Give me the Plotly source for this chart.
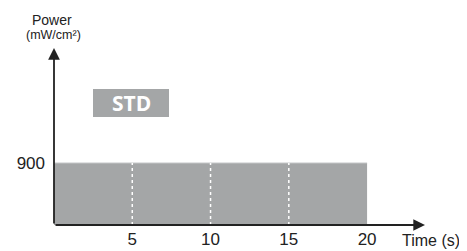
import plotly.graph_objects as go

# data
time_span = [0, 20]
power_level = [900, 900]
marker_times = [5, 10, 15]
x_ticks = [5, 10, 15, 20]
y_ticks = [900]
label = "STD"

# page has an 8px body margin; the figure is laid out in page pixels minus 8
OFF = 8
W, H = 467 - OFF, 251 - OFF
PL, PR, PT, PB = 54, 425, 48, 225  # plot area in page pixels
L, T = PL - OFF, PT - OFF
R, B = W - (PR - OFF), H - (PB - OFF)
pw, ph = PR - PL, PB - PT

fig = go.Figure()
fig.add_trace(go.Scatter(
    x=time_span, y=power_level, mode="lines", fill="tozeroy",
    fillcolor="#a4a6a7", line=dict(color="#c4c6c7", width=1),
    hoverinfo="skip", showlegend=False))
for t in marker_times:
    fig.add_trace(go.Scatter(
        x=[t, t], y=[0, power_level[0]], mode="lines",
        line=dict(color="white", width=1.5, dash="3px,3px"),
        hoverinfo="skip", showlegend=False))

font = "Liberation Sans, Arial, sans-serif"
fig.update_layout(
    width=W, height=H, margin=dict(l=L, r=R, t=T, b=B, autoexpand=False),
    paper_bgcolor="white", plot_bgcolor="white",
    xaxis=dict(range=[0, 23.7], tickvals=x_ticks, ticktext=[str(v) for v in x_ticks],
               showgrid=False, zeroline=False, showline=False, ticks="", automargin=False,
               ticklabelstandoff=2,
               tickfont=dict(family=font, size=17, color="#222")),
    yaxis=dict(range=[0, 2570], tickvals=y_ticks, ticktext=[str(v) for v in y_ticks],
               showgrid=False, zeroline=False, showline=False, ticks="", automargin=False,
               ticklabelstandoff=8,
               tickfont=dict(family=font, size=17, color="#222")),
)

# axes with arrows
fig.add_annotation(xref="x domain", yref="y domain", x=1.0, y=0, axref="x domain", ayref="y domain",
                   ax=0, ay=0, text="", showarrow=True, arrowhead=2, arrowsize=1.3,
                   arrowwidth=1.8, arrowcolor="#222")
fig.add_annotation(xref="x domain", yref="y domain", x=0, y=1.0, axref="x domain", ayref="y domain",
                   ax=0, ay=0, text="", showarrow=True, arrowhead=2, arrowsize=1.3,
                   arrowwidth=1.8, arrowcolor="#222")

def px(x):
    return (x - PL) / pw

def py(y):
    return (PB - y) / ph

# axis titles
fig.add_annotation(xref="paper", yref="paper", x=px(431), y=py(240),
                   text="Time (s)", showarrow=False, xanchor="center", yanchor="middle",
                   font=dict(family=font, size=16, color="#222"))
fig.add_annotation(xref="paper", yref="paper", x=px(52), y=py(20),
                   text="Power", showarrow=False, xanchor="center", yanchor="middle",
                   font=dict(family=font, size=14, color="#222"))
fig.add_annotation(xref="paper", yref="paper", x=px(53), y=py(35),
                   text="(mW/cm²)", showarrow=False, xanchor="center", yanchor="middle",
                   font=dict(family=font, size=12.5, color="#222"))

# STD box
fig.add_shape(type="rect", xref="paper", yref="paper",
              x0=px(93), x1=px(169), y0=py(117), y1=py(89),
              fillcolor="#a4a6a7", line=dict(width=0))
fig.add_annotation(xref="paper", yref="paper", x=px(131), y=py(103),
                   text="<b>" + label + "</b>", showarrow=False, xanchor="center", yanchor="middle",
                   font=dict(family="Open Sans, sans-serif", size=21, color="white"))

fig.write_html("out.html")
